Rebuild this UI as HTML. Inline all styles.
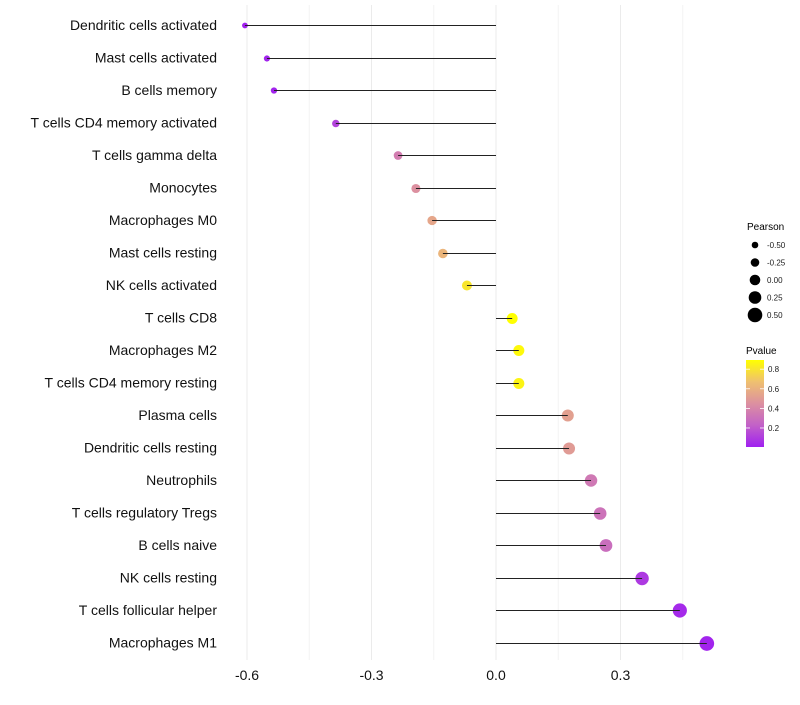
<!DOCTYPE html>
<html><head><meta charset="utf-8"><style>
body{margin:0;background:#fff;}
svg{font-family:"Liberation Sans",Arial,sans-serif;}
</style></head><body>
<svg id="chart" width="800" height="700" xmlns="http://www.w3.org/2000/svg">
<defs><linearGradient id="pg" x1="0" y1="1" x2="0" y2="0">
<stop offset="0" stop-color="#a020f0"/><stop offset="0.25" stop-color="#c261c8"/>
<stop offset="0.5" stop-color="#dc90a0"/><stop offset="0.75" stop-color="#efc070"/>
<stop offset="1" stop-color="#ffff00"/></linearGradient></defs>
<g id="grid"></g>
<g id="dots"></g>
<g id="marks"></g>
<g id="axes"></g>
<g id="legend"></g>
</svg>
<script>
const categories=["Dendritic cells activated","Mast cells activated","B cells memory","T cells CD4 memory activated","T cells gamma delta","Monocytes","Macrophages M0","Mast cells resting","NK cells activated","T cells CD8","Macrophages M2","T cells CD4 memory resting","Plasma cells","Dendritic cells resting","Neutrophils","T cells regulatory  Tregs ","B cells naive","NK cells resting","T cells follicular helper","Macrophages M1"];
const pearson=[-0.605,-0.552,-0.535,-0.386,-0.236,-0.193,-0.154,-0.128,-0.070,0.039,0.055,0.055,0.173,0.176,0.229,0.251,0.265,0.352,0.443,0.508];
const pvalue=[0.01,0.02,0.02,0.12,0.36,0.45,0.55,0.62,0.80,0.89,0.87,0.85,0.52,0.50,0.34,0.31,0.29,0.09,0.04,0.02];
const xTicks=[-0.6,-0.3,0.0,0.3];
const xTickLabels=["-0.6","-0.3","0.0","0.3"];
const sizeLegend=[-0.5,-0.25,0,0.25,0.5];
const sizeLegendLabels=["-0.50","-0.25","0.00","0.25","0.50"];
const pTicks=[0.2,0.4,0.6,0.8];
const NS="http://www.w3.org/2000/svg";
const x=v=>496+415*v;
const y=i=>25+i*32.5;
const r=v=>5.3+4*v;
const pScale=p=>447-(p-0.006)*98;
const stops=[[0,[160,32,240]],[0.25,[194,97,200]],[0.5,[220,144,160]],[0.75,[239,192,112]],[1,[255,255,0]]];
function col(p){let t=Math.max(0,Math.min(1,(p-0.006)/(0.89-0.006)));for(let k=1;k<stops.length;k++){if(t<=stops[k][0]){const a=stops[k-1],b=stops[k],f=(t-a[0])/(b[0]-a[0]);return"rgb("+a[1].map((c,j)=>Math.round(c+(b[1][j]-c)*f)).join(",")+")";}}return"rgb(255,255,0)";}
function el(tag,attrs,parent,text){const e=document.createElementNS(NS,tag);for(const k in attrs)e.setAttribute(k,attrs[k]);if(text!==undefined)e.textContent=text;parent.appendChild(e);return e;}
const grid=document.getElementById('grid'),dots=document.getElementById('dots'),marks=document.getElementById('marks'),axes=document.getElementById('axes'),legend=document.getElementById('legend');
for(let v=-0.6;v<=0.46;v+=0.15){const g=el('line',{x1:x(v),x2:x(v),y1:5,y2:660,stroke:Math.abs(Math.round(v/0.15))%2===0?'#ebebeb':'#f4f4f4','stroke-width':1},grid);

}
categories.forEach((c,i)=>{
const yy=Math.round(y(i))+0.5;
const t=el('text',{x:217,y:y(i)+5,'text-anchor':'end','font-size':14,fill:'#111'},axes,c);


const d=el('circle',{cx:x(pearson[i]),cy:yy,r:r(pearson[i]),fill:col(pvalue[i])},dots);


const s=el('line',{x1:x(0),x2:x(pearson[i]),y1:yy,y2:yy,stroke:'#222','stroke-width':1},marks);


});
xTicks.forEach((v,i)=>{const t=el('text',{x:x(v),y:680,'text-anchor':'middle','font-size':14,fill:'#111'},axes,xTickLabels[i]);

});
const pt=el('text',{x:747,y:230,'font-size':10,fill:'#000'},legend,'Pearson');


sizeLegend.forEach((v,i)=>{const cy=245+i*17.5;
const c=el('circle',{cx:755,cy:cy,r:r(v),fill:'#000'},legend);


const t=el('text',{x:767,y:cy+3,'font-size':8,fill:'#1a1a1a'},legend,sizeLegendLabels[i]);

});
const ct=el('text',{x:746,y:354,'font-size':10,fill:'#000'},legend,'Pvalue');


const bar=el('rect',{x:746,y:360,width:18,height:87,fill:'url(#pg)'},legend);


pTicks.forEach(p=>{const yy=pScale(p);
const tk=el('line',{x1:746,x2:750,y1:yy,y2:yy,stroke:'#fff','stroke-width':0.8},legend);


const tk2=el('line',{x1:760,x2:764,y1:yy,y2:yy,stroke:'#fff','stroke-width':0.8},legend);


const t=el('text',{x:768,y:yy+3,'font-size':8,fill:'#1a1a1a'},legend,p.toFixed(1));

});
</script>
</body></html>
